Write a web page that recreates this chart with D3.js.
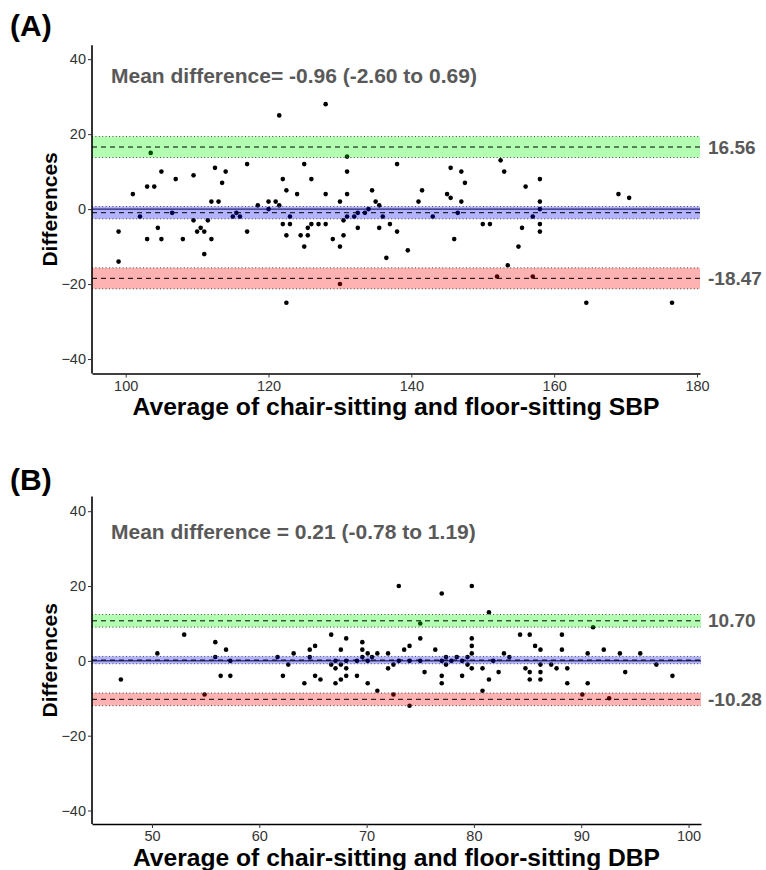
<!DOCTYPE html>
<html>
<head>
<meta charset="utf-8">
<script src="https://cdn.jsdelivr.net/npm/d3@7"></script>
<style>
body { margin: 0; background: #fff; }
text { font-family: "Liberation Sans", Arial, sans-serif; }
</style>
</head>
<body>
<div id="chart"></div>
<script>
// panel A: SBP
const sbpMean = [121.5, 103.5, 105, 112.5, 114, 117, 107, 109.5, 113.5, 122, 122.5, 101, 103, 104, 112, 113, 118.5, 120, 121, 121.5,
  120, 102, 106.5, 115.5, 115, 116, 123, 109.5, 111.5, 104.5, 110.5, 110, 111, 99, 117, 122, 123, 122.5, 103, 105,
  108, 112, 111, 124.5, 125.5, 125, 129, 130, 130.5, 136.5, 99, 122.5, 130, 128, 131, 125, 138, 131, 145.5, 147,
  147.5, 126, 124, 128, 131, 134.5, 141.5, 145, 145.5, 147, 141, 130, 135, 135.5, 134, 131, 132, 132.5, 133.5, 136,
  143, 146.5, 130.5, 126, 127, 128, 125.5, 132.5, 135.5, 137, 138, 146, 139.5, 155, 153.5, 152, 157, 158, 164.5, 176.5,
  152.5, 153, 158, 156, 158, 158, 157, 169, 170.5, 150, 151, 155.5, 158]
const sbpDiff = [25, 15, 10, 11, 10, 12, 8, 9, 7, 8, 5, 4, 6, 6, 2, 2, 1, 2, 2, 1,
  0, -2, -1, -1, -2, -2, -2, -3, -3, -5, -5, -6, -6, -6, -6, -4, -4, -7, -8, -8,
  -8, -8, -12, -7, -7, -10, -8, -10, -7, -13, -14, -25, -20, 28, 14, 12, 12, 10, 11, 10,
  7, 8, 4, 4, 4, 5, 5, 4, 3, 2, 2, 2, 2, 1, 0, -2, -2, -1, -1, -2,
  -2, -1, -3, -4, -4, -4, -5, -5, -5, -4, -6, -8, -11, -10, -15, -18, -18, -6, -25, -25,
  13, 10, 8, 6, 2, 0, -2, 4, 3, -4, -4, -5, -4]
const sbpBias = [-0.96, -2.60, 0.69]   // mean, lower CI, upper CI
const sbpUpper = [16.56, 13.76, 19.36]
const sbpLower = [-18.47, -21.27, -15.67]

// panel B: DBP
const dbpMean = [47.1, 50.5, 53, 55.9, 55.9, 56.9, 56.4, 57.3, 57.3, 54.9, 61.7, 62.2, 62.7, 63.2, 64.2, 64.7, 64.7,
  73, 77, 79.8, 81.4, 75, 66.7, 68.1, 69.6, 65.2, 67.6, 69.6, 70.1, 71, 72, 73.5, 74, 75, 76.4, 79.8, 79.8, 79.8,
  69.6, 70.5, 77.4, 78.4, 79.4, 82.8, 83.3, 67.1, 68.1, 69.1, 70.1, 73, 74, 75, 77, 77.9, 78.9, 81.8,
  66.7, 67.6, 77.4, 79.4, 67.1, 68.1, 72, 72.5, 79.8, 80.8, 75.4, 82.3, 65.2, 68.1, 69.1, 77, 78.9,
  65.7, 67.6, 81.4, 67.1, 70.1, 77, 71, 80.8, 72.5, 74,
  91.1, 84.3, 85.2, 88.2, 85.7, 86.2, 88.2, 90.6, 92.1, 93.6, 95.5, 84.8, 85.2, 86.2, 86.2, 87.2, 87.7, 88.7,
  85.2, 86.2, 88.7, 90.6, 94.1, 97, 98.5, 90.1, 92.6]
const dbpDiff = [-5, 2, 7, 5, 1, 3, -4, -4, 0, -9, 1, -4, -1, 2, -6, 3, 1,
  20, 18, 20, 13, 10, 7, 6, 5, 4, 3, 3, 2, 2, 2, 3, 4, 6, 3, 6, 4, 2,
  1, 1, 1, 1, 1, 2, 1, 0, 0, 0, 0, 0, 0, 0, 0, 0, 0, 0,
  -1, -1, -1, -1, -2, -2, -2, -1, -2, -2, -3, -3, -4, -4, -4, -4, -4,
  -5, -5, -5, -6, -6, -6, -8, -8, -9, -12,
  9, 7, 7, 7, 4, 3, 3, 2, 3, 2, 2, -2, -3, -1, -3, -1, -2, -2,
  -5, -5, -6, -6, -3, -1, -4, -9, -10]
const dbpBias = [0.21, -0.78, 1.19]
const dbpUpper = [10.70, 9.01, 12.39]
const dbpLower = [-10.28, -11.97, -8.59]

const yTicks = [-40, -20, 0, 20, 40]
const sbpTicks = [100, 120, 140, 160, 180]
const dbpTicks = [50, 60, 70, 80, 90, 100]

const W = 766, H = 870
const svg = d3.select('#chart').append('svg').attr('width', W).attr('height', H)

function drawPanel(o) {
  const x = d3.scaleLinear().domain(o.xDomain).range([92, o.right])
  const y = d3.scaleLinear().domain(o.yDomain).range([o.bottom, o.top])
  const g = svg.append('g')
  const x0 = x.range()[0], x1 = x.range()[1]

  // panel tag
  g.append('text').attr('x', 10).attr('y', o.tagY)
    .attr('font-size', 30).attr('font-weight', 'bold').text(o.tag)

  // points
  g.selectAll('circle').data(o.xs.map((v, i) => [v, o.ys[i]])).join('circle')
    .attr('cx', d => x(d[0])).attr('cy', d => y(d[1])).attr('r', 2.3).attr('fill', '#000')

  // zero line
  g.append('line').attr('x1', x0).attr('x2', x1)
    .attr('y1', y(0)).attr('y2', y(0)).attr('stroke', '#000').attr('stroke-width', 1)

  const bands = [[o.upper, 'rgba(0,255,0,0.3)'], [o.bias, 'rgba(0,0,255,0.3)'], [o.lower, 'rgba(255,0,0,0.3)']]
  bands.forEach(([b, col]) => {
    g.append('rect').attr('x', x0).attr('width', x1 - x0)
      .attr('y', y(b[2])).attr('height', y(b[1]) - y(b[2])).attr('fill', col)
    ;[b[1], b[2]].forEach(v => {
      g.append('line').attr('x1', x0).attr('x2', x1)
        .attr('y1', y(v)).attr('y2', y(v)).attr('stroke', '#444')
        .attr('stroke-width', 1).attr('stroke-dasharray', '1,2.4')
    })
    g.append('line').attr('x1', x0).attr('x2', x1)
      .attr('y1', y(b[0])).attr('y2', y(b[0])).attr('stroke', '#000')
      .attr('stroke-width', 1).attr('stroke-dasharray', '5,4')
  })

  // limit labels
  ;[o.upper[0], o.lower[0]].forEach(v => {
    g.append('text').attr('x', 708).attr('y', y(v)).attr('dy', '0.35em')
      .attr('font-size', 19).attr('font-weight', 'bold').attr('fill', '#595959')
      .text(v.toFixed(2))
  })

  g.append('text').attr('x', 111).attr('y', y(o.noteY)).attr('dy', '0.35em')
    .attr('font-size', 21).attr('font-weight', 'bold').attr('fill', '#595959')
    .text(o.note)

  // axes
  const ax = g.append('g').attr('transform', `translate(0,${o.bottom})`)
    .call(d3.axisBottom(x).tickValues(o.xTicks).tickSize(4).tickSizeOuter(0).tickPadding(3))
  const ay = g.append('g').attr('transform', 'translate(92,0)')
    .call(d3.axisLeft(y).tickValues(yTicks).tickSize(4).tickSizeOuter(0).tickPadding(2))
  ;[ax, ay].forEach(a => {
    a.select('.domain').attr('stroke', '#000').attr('stroke-width', 1.6)
    a.selectAll('.tick line').attr('stroke', '#333')
    a.selectAll('.tick text').attr('font-size', 14.5).attr('fill', '#333')
      .attr('font-family', '"Liberation Sans", Arial, sans-serif')
  })
  ay.select('.domain').attr('d', `M0,${o.top}V${o.bottom}`)

  g.append('text').attr('x', (x0 + x1) / 2).attr('y', o.bottom + 41.5)
    .attr('text-anchor', 'middle').attr('font-size', 23).attr('font-weight', 'bold')
    .attr('textLength', 527).attr('lengthAdjust', 'spacingAndGlyphs')
    .text(o.xTitle)
  g.append('text').attr('transform', `translate(57,${(o.top + o.bottom) / 2}) rotate(-90)`)
    .attr('text-anchor', 'middle').attr('font-size', 21).attr('font-weight', 'bold')
    .text('Differences')
}

drawPanel({
  tag: '(A)', tagY: 36, xs: sbpMean, ys: sbpDiff, bias: sbpBias, upper: sbpUpper, lower: sbpLower,
  xDomain: [95.28, 180.42], yDomain: [-43.86, 43.7], right: 700, top: 45.3, bottom: 373.5,
  xTicks: sbpTicks, noteY: 35.7, note: 'Mean difference= -0.96 (-2.60 to 0.69)',
  xTitle: 'Average of chair-sitting and floor-sitting SBP'
})
drawPanel({
  tag: '(B)', tagY: 490, xs: dbpMean, ys: dbpDiff, bias: dbpBias, upper: dbpUpper, lower: dbpLower,
  xDomain: [44.41, 101.16], yDomain: [-43.6, 43.9], right: 701, top: 496.6, bottom: 824,
  xTicks: dbpTicks, noteY: 34.6, note: 'Mean difference = 0.21 (-0.78 to 1.19)',
  xTitle: 'Average of chair-sitting and floor-sitting DBP'
})
</script>
</body>
</html>
